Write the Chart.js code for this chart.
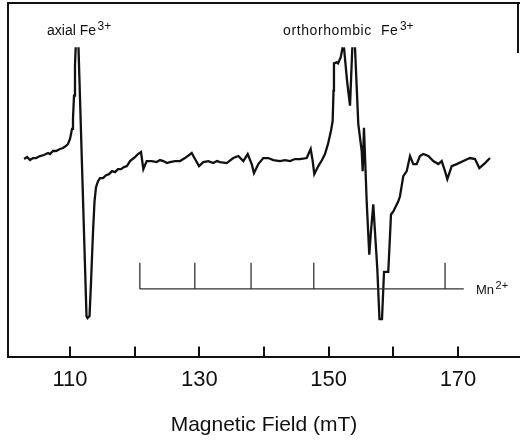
<!DOCTYPE html>
<html>
<head>
<meta charset="utf-8">
<title>EPR spectrum</title>
<script src="https://cdn.jsdelivr.net/npm/chart.js@4.4.1/dist/chart.umd.min.js"></script>
<style>
  body { margin: 0; background: #fff; }
  canvas { display: block; }
</style>
</head>
<body>
<canvas id="eprChart" width="520" height="442"></canvas>
<script>
// spectrum (field in mT, signal in arbitrary units, null = off scale)
var fieldMT = [
  102.9, 103.35, 103.81, 104.28, 104.74, 105.36, 105.98, 106.6, 106.91, 107.37,
  107.83, 108.45, 108.92, 109.38, 109.69, 110.0, 110.31, 110.46, 110.62, 110.77,
  110.88, 111.1, 111.31, 112.55, 112.71, 113.02, 113.25, 113.56, 113.79, 114.02,
  114.33, 114.64, 115.1, 115.57, 116.03, 116.5, 116.96, 117.42, 117.89, 118.35,
  118.81, 119.28, 120.05, 120.52, 120.98, 121.34, 121.86, 122.63, 123.41, 123.92,
  124.43, 125.0, 125.46, 126.24, 127.01, 127.78, 128.82, 129.33, 129.95, 130.61,
  131.39, 132.16, 132.73, 133.2, 134.23, 135.25, 136.03, 136.8, 137.48, 138.1,
  138.45, 139.12, 139.89, 140.66, 141.44, 142.47, 143.25, 144.02, 144.79, 145.57,
  146.6, 147.22, 147.53, 147.78, 148.4, 148.97, 149.43, 149.9, 150.36, 150.62,
  150.75, 150.82, 151.24, 151.44, 151.86, 152.17, 152.27, 152.37, 152.84, 153.3,
  153.66, 153.86, 154.07, 154.58, 155.11, 155.26, 155.46, 155.88, 156.28, 156.54,
  156.9, 157.16, 157.52, 157.86, 158.25, 158.56, 159.22, 159.64, 160.0, 160.77,
  161.03, 161.54, 162.07, 162.58, 163.09, 163.61, 164.12, 164.63, 165.41, 166.18,
  166.95, 167.48, 167.99, 168.35, 169.03, 169.8, 170.82, 171.86, 172.63, 173.3,
  174.18, 174.95
];
var signal = [
  0, 2, -1, 1, 1, 3, 4, 6, 5, 8,
  8, 10, 11, 13, 15, 20, 30, 40, 63, 93,
  111, null, 111, -156, -158, -156, -122, -72, -42, -28,
  -22, -19, -19, -16, -15, -12, -13, -10, -10, -8,
  -7, -2, 2, 5, 7, -10, -2, -2, -3, -1,
  -2, -4, -3, -2, -2, 1, 6, 0, -7, -3,
  -2, -4, -2, -3, -4, 1, 3, -2, 5, -5,
  -14, -5, 1, 1, -1, -2, -1, -2, 0, 0,
  1, 10, -2, -15, -7, -1, 5, 15, 28, 38,
  68, 95, 96, 95, 101, 111, null, 111, 78, 53,
  111, null, 111, 35, 8, -12, 31, -42, -95, -72,
  -45, -72, -109, -159, -159, -112, -112, -55, -52, -42,
  -37, -17, -12, 3, -5, -5, 3, 5, 3, -2,
  -5, -2, -12, -20, -7, -5, -2, 1, 0, -9,
  -4, 1
];

// Mn2+ hyperfine stick positions (mT)
var mnLines = [120.8, 129.3, 138.0, 147.7, 168.0];
var mnBarEnd = 170.9;
var mnBase = -129;
var mnTop = -103;

var tickLabels = [110, 130, 150, 170];

var points = fieldMT.map(function (f, i) {
  return { x: f, y: signal[i] };
});

/* frame, inward ticks, Mn sticks and peak labels */
var extras = {
  id: 'extras',
  afterDraw: function (chart) {
    var ctx = chart.ctx;
    var xs = chart.scales.x;
    var ys = chart.scales.y;
    var area = chart.chartArea;
    ctx.save();

    // frame lines
    ctx.strokeStyle = '#111';
    ctx.lineWidth = 2;
    ctx.beginPath();
    ctx.moveTo(area.left, area.bottom);
    ctx.lineTo(area.left, area.top);
    ctx.lineTo(area.right, area.top);
    ctx.moveTo(area.right - 2, area.top);
    ctx.lineTo(area.right - 2, area.top + 50);
    ctx.stroke();

    // tick marks pointing into the plot
    ctx.beginPath();
    xs.ticks.forEach(function (t) {
      var px = Math.round(xs.getPixelForValue(t.value));
      ctx.moveTo(px, area.bottom);
      ctx.lineTo(px, area.bottom - 11);
    });
    ctx.stroke();

    // Mn2+ stick diagram
    var yb = ys.getPixelForValue(mnBase);
    var yt = ys.getPixelForValue(mnTop);
    ctx.strokeStyle = '#333';
    ctx.lineWidth = 1.3;
    ctx.beginPath();
    ctx.moveTo(xs.getPixelForValue(mnLines[0]), yb);
    ctx.lineTo(xs.getPixelForValue(mnBarEnd), yb);
    mnLines.forEach(function (f) {
      var px = xs.getPixelForValue(f);
      ctx.moveTo(px, yb);
      ctx.lineTo(px, yt);
    });
    ctx.stroke();

    // labels with superscripts
    function label(text, sup, field, level, size, spacing) {
      var px = xs.getPixelForValue(field);
      var py = ys.getPixelForValue(level);
      ctx.fillStyle = '#111';
      ctx.textBaseline = 'alphabetic';
      ctx.textAlign = 'left';
      ctx.font = size + 'px "Liberation Sans", Arial, sans-serif';
      if ('letterSpacing' in ctx) ctx.letterSpacing = spacing + 'px';
      ctx.fillText(text, px, py);
      var w = ctx.measureText(text).width;
      if ('letterSpacing' in ctx) ctx.letterSpacing = '0px';
      ctx.font = Math.round(size * 0.85) + 'px "Liberation Sans", Arial, sans-serif';
      ctx.fillText(sup, px + w + 1.5, py - size * 0.38);
    }
    label('axial Fe', '3+', 106.44, 123, 14, 0);
    label('orthorhombic  Fe', '3+', 142.94, 123, 14, 0.6);
    label('Mn', '2+', 172.78, -134, 13, 0);

    ctx.restore();
  }
};

var ctx = document.getElementById('eprChart').getContext('2d');

var eprChart = new Chart(ctx, {
  type: 'line',
  data: {
    datasets: [{
      data: points,
      borderColor: '#111',
      borderWidth: 2.3,
      pointRadius: 0,
      tension: 0,
      spanGaps: false,
      fill: false
    }]
  },
  options: {
    responsive: false,
    animation: false,
    layout: {
      padding: { left: 8, right: 0, top: 3, bottom: 0 }
    },
    plugins: {
      legend: { display: false },
      tooltip: { enabled: false }
    },
    scales: {
      x: {
        type: 'linear',
        min: 100.41,
        max: 179.59,
        grid: { display: false, drawTicks: false },
        border: { display: true, color: '#111', width: 2 },
        ticks: {
          stepSize: 10,
          includeBounds: false,
          autoSkip: false,
          maxRotation: 0,
          padding: 9,
          color: '#111',
          font: { family: '"Liberation Sans", Arial, sans-serif', size: 22 },
          callback: function (value) {
            return tickLabels.indexOf(value) >= 0 ? String(value) : '';
          }
        },
        title: {
          display: true,
          text: 'Magnetic Field (mT)',
          color: '#111',
          font: { family: '"Liberation Sans", Arial, sans-serif', size: 21 },
          padding: { top: 11, bottom: 4 }
        }
      },
      y: {
        display: false,
        min: -197,
        max: 155
      }
    }
  },
  plugins: [extras]
});
</script>
</body>
</html>
